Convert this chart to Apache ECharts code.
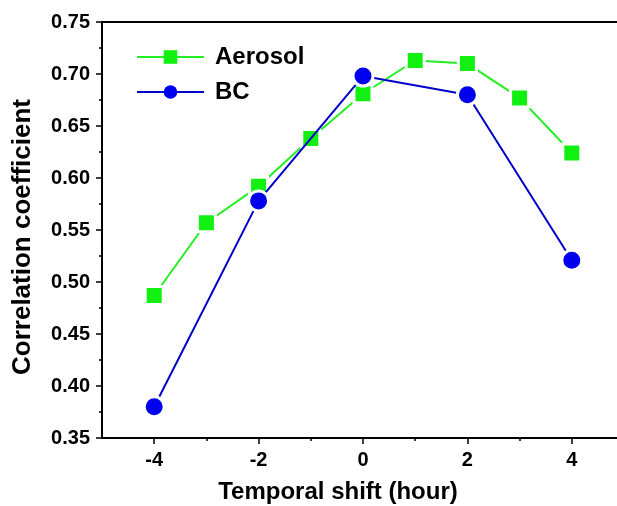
<!DOCTYPE html>
<html>
<head>
<meta charset="utf-8">
<script src="https://cdn.jsdelivr.net/npm/echarts@6/dist/echarts.min.js"></script>
<style>
html,body{margin:0;padding:0;background:#fff;}
#c{width:617px;height:506px;}
</style>
</head>
<body>
<div id="c"></div>
<script>
var shifts = [-4, -3, -2, -1, 0, 1, 2, 3, 4];
var aerosol = [0.487, 0.557, 0.592, 0.638, 0.681, 0.713, 0.710, 0.677, 0.624];
var bcShifts = [-4, -2, 0, 2, 4];
var bc = [0.380, 0.578, 0.698, 0.680, 0.521];
var xMajorTicks = [-4, -2, 0, 2, 4];
var xMinorTicks = [-3, -1, 1, 3];
var yTicks = ['0.35','0.40','0.45','0.50','0.55','0.60','0.65','0.70','0.75'];

var FONT = '"Liberation Sans", Arial, sans-serif';
var chart = echarts.init(document.getElementById('c'), null, {renderer: 'canvas'});

function pairs(xs, ys){ return xs.map(function(x,i){ return [x, ys[i]]; }); }

chart.setOption({
  animation: false,
  backgroundColor: '#ffffff',
  grid: {left: 102, top: 22, width: 522, bottom: 68, outerBoundsMode: 'none', containLabel: false,
    show: true, borderColor: '#000', borderWidth: 2, backgroundColor: 'transparent'},
  legend: {
    orient: 'vertical', left: 136, top: 45, padding: 0, itemWidth: 67, itemHeight: 17, itemGap: 11,
    textStyle: {fontFamily: FONT, fontWeight: 'bold', fontSize: 24, color: '#000', padding: [0,0,0,6]},
    itemStyle: {borderWidth: 0},
    data: ['Aerosol', 'BC']
  },
  xAxis: [{
    type: 'value', min: -5, max: 5, interval: 1,
    name: 'Temporal shift (hour)', nameLocation: 'middle', nameGap: 42,
    nameTextStyle: {fontFamily: FONT, fontWeight: 'bold', fontSize: 24, color: '#000', padding: [0, 50, 0, 0]},
    axisLine: {show: true, onZero: false, lineStyle: {color: '#000', width: 2}},
    axisTick: {show: true, inside: false, length: 6, customValues: xMajorTicks, lineStyle: {color: '#000', width: 1.5}},
    axisLabel: {fontFamily: FONT, fontWeight: 'bold', fontSize: 20, color: '#000', margin: 12, customValues: xMajorTicks},
    splitLine: {show: false}
  }, {
    type: 'value', min: -5, max: 5, interval: 1, position: 'bottom',
    axisLine: {show: false, onZero: false},
    axisTick: {show: true, inside: false, length: 3, customValues: xMinorTicks, lineStyle: {color: '#000', width: 1.5}},
    axisLabel: {show: false},
    splitLine: {show: false}
  }],
  yAxis: {
    type: 'value', min: 0.35, max: 0.75, interval: 0.05,
    name: 'Correlation coefficient', nameLocation: 'middle', nameGap: 66,
    nameTextStyle: {fontFamily: FONT, fontWeight: 'bold', fontSize: 26, color: '#000', padding: [0, 14, 0, 0]},
    axisLine: {show: true, onZero: false, lineStyle: {color: '#000', width: 2}},
    axisTick: {show: true, inside: false, length: 6, lineStyle: {color: '#000', width: 1.5}},
    minorTick: {show: true, splitNumber: 2, length: 3, lineStyle: {color: '#000', width: 1.5}},
    axisLabel: {fontFamily: FONT, fontWeight: 'bold', fontSize: 20, color: '#000', margin: 12,
      formatter: function(v){ var s = v.toFixed(2); return yTicks.indexOf(s) >= 0 ? s : ''; }},
    splitLine: {show: false}
  },
  series: [
    {
      name: 'Aerosol', type: 'line', data: pairs(shifts, aerosol),
      symbol: 'rect', symbolSize: 18,
      lineStyle: {color: '#22ee22', width: 2},
      itemStyle: {color: '#11f011', borderColor: '#ffffff', borderWidth: 3},
      z: 2
    },
    {
      name: 'BC', type: 'line', data: pairs(bcShifts, bc),
      symbol: 'circle', symbolSize: 20,
      lineStyle: {color: '#0000cc', width: 2},
      itemStyle: {color: '#0000ee', borderColor: '#ffffff', borderWidth: 3},
      z: 3
    }
  ]
});
</script>
</body>
</html>
